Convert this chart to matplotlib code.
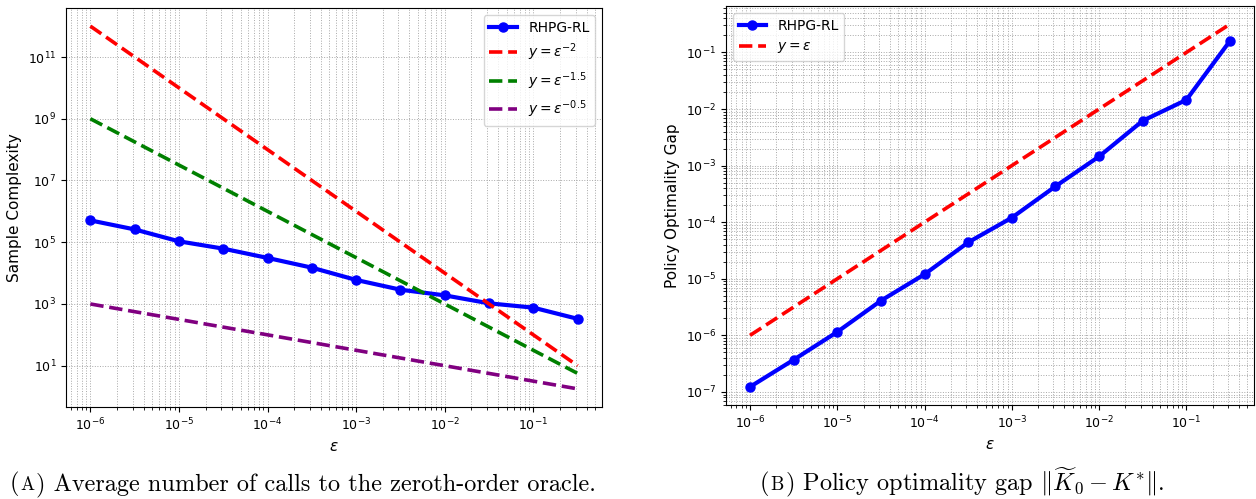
import numpy as np
import matplotlib
matplotlib.use("Agg")
import matplotlib.pyplot as plt

# tolerance values (x axis for both panels)
eps = [1e-6, 10**-5.5, 1e-5, 10**-4.5, 1e-4, 10**-3.5, 1e-3,
       10**-2.5, 1e-2, 10**-1.5, 1e-1, 10**-0.5]

# (a) sample complexity of RHPG-RL
calls = [5.1e5, 2.6e5, 1.07e5, 6.2e4, 3.1e4, 1.5e4, 6.0e3,
         2.9e3, 1.9e3, 1.05e3, 7.6e2, 3.3e2]

# (b) policy optimality gap of RHPG-RL
gap = [1.23e-7, 3.7e-7, 1.15e-6, 4.1e-6, 1.2e-5, 4.4e-5, 1.2e-4,
       4.3e-4, 1.45e-3, 6.2e-3, 1.45e-2, 1.6e-1]

# reference rates: exponent and colour
ref_exps = [-2, -1.5, -0.5]
ref_labels = [r"$y = \varepsilon^{-2}$", r"$y = \varepsilon^{-1.5}$", r"$y = \varepsilon^{-0.5}$"]
ref_colors = ["red", "green", "purple"]

captions = [("A", " Average number of calls to the zeroth-order oracle."),
            ("B", r" Policy optimality gap $\|\widetilde{K}_0 - K^{*}\|$.")]

x = np.array(eps)

fig = plt.figure(figsize=(12.56, 4.99), dpi=100)
ax1 = fig.add_axes([66/1256, 92/499, 536/1256, 399/499])
ax2 = fig.add_axes([726/1256, 94/499, 528/1256, 399/499])

ax1.plot(x, calls, "o-", color="blue", lw=3, ms=6.5, label="RHPG-RL")
for p, lab, c in zip(ref_exps, ref_labels, ref_colors):
    ax1.plot(x, x**p, "--", color=c, lw=2.6, label=lab)

ax2.plot(x, gap, "o-", color="blue", lw=3, ms=6.5, label="RHPG-RL")
ax2.plot(x, x, "--", color="red", lw=2.6, label=r"$y = \varepsilon$")

ax1.set_ylabel("Sample Complexity", fontsize=11)
ax2.set_ylabel("Policy Optimality Gap", fontsize=11)

for ax in (ax1, ax2):
    ax.set_xscale("log")
    ax.set_yscale("log")
    ax.set_xlabel(r"$\varepsilon$", fontsize=11)
    ax.grid(True, which="both", linestyle=":", linewidth=0.7, color="#a8a8a8")
    ax.tick_params(labelsize=9)
    ax.legend(fontsize=10, loc="upper left" if ax is ax2 else "upper right")

# sub-captions in a LaTeX-like serif, small caps letter
plt.rcParams["mathtext.fontset"] = "cm"
r = fig.canvas.get_renderer()
W = fig.bbox.width
yb = 0.018
for x0, (letter, rest) in zip([10/1256, 760/1256], captions):
    t1 = fig.text(x0, yb, "(", fontfamily="cmr10", fontsize=17.5, va="baseline")
    x1 = (t1.get_window_extent(r).x1 + 1) / W
    t2 = fig.text(x1, yb, letter, fontfamily="cmr10", fontsize=13.5, va="baseline")
    x2 = (t2.get_window_extent(r).x1 + 1) / W
    fig.text(x2, yb, ")" + rest, fontfamily="cmr10", fontsize=17.5, va="baseline")

fig.savefig("out.png", dpi=100)
